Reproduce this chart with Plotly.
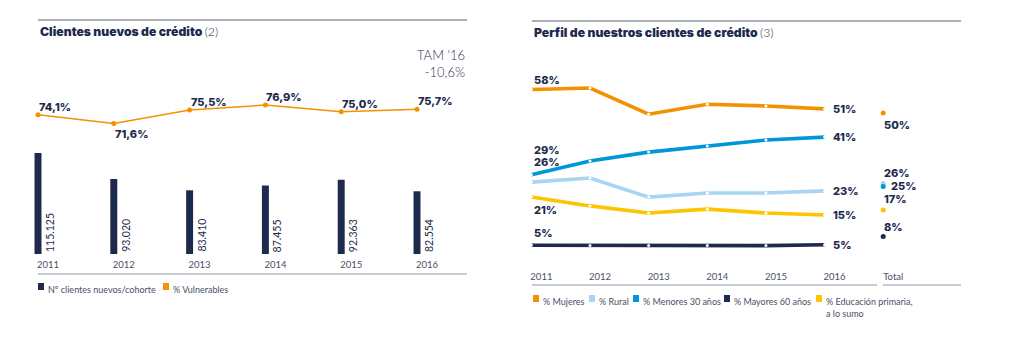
import plotly.graph_objects as go

W, H = 1024, 354

# ---------------- data ----------------
years = ["2011", "2012", "2013", "2014", "2015", "2016"]
new_clients = [115125, 93020, 83410, 87455, 92363, 82554]
new_clients_labels = ["115.125", "93.020", "83.410", "87.455", "92.363", "82.554"]
vulnerable_pct = [74.1, 71.6, 75.5, 76.9, 75.0, 75.7]
vulnerable_labels = ["74,1%", "71,6%", "75,5%", "76,9%", "75,0%", "75,7%"]

profile_cats = ["2011", "2012", "2013", "2014", "2015", "2016", "Total"]
mujeres = [58, 58.5, 49.6, 53.0, 52.4, 51.4]
rural = [26.5, 27.9, 21.4, 22.8, 22.8, 23.5]
menores30 = [29, 33.7, 36.7, 38.8, 40.8, 41.8]
mayores60 = [5.0, 4.9, 4.9, 4.9, 4.9, 5.2]
educacion = [21.4, 18.4, 16.0, 17.3, 16.0, 15.3]
total_values = [50, 26, 25, 17, 8]          # mujeres, rural, menores30, educacion, mayores60
start_labels = ["58%", "26%", "29%", "21%", "5%"]
end_labels = ["51%", "23%", "41%", "15%", "5%"]
total_labels = ["50%", "26%", "25%", "17%", "8%"]

# ---------------- styles ----------------
NAVY = "#1d2a4d"
ORANGE = "#f39200"
LBLUE = "#a9d4f2"
BLUE = "#0096da"
YELLOW = "#fdc400"
GRAY_TXT = "#4a5064"
FONT = "Lato"
HEAVY = "Inter"


def fx(px):
    return px / W


def fy(py):
    return 1 - py / H


fig = go.Figure()

# ---- left panel: bars + line ----
fig.add_trace(go.Bar(x=years, y=new_clients, xaxis="x", yaxis="y",
                     marker=dict(color=NAVY, line=dict(width=0)), width=0.092,
                     hoverinfo="skip"))
fig.add_trace(go.Scatter(x=years, y=vulnerable_pct, xaxis="x", yaxis="y2",
                         mode="lines+markers", line=dict(color=ORANGE, width=1.5),
                         marker=dict(color=ORANGE, size=5), hoverinfo="skip"))

# ---- right panel: lines ----
series = [(mujeres, ORANGE), (rural, LBLUE), (menores30, BLUE), (educacion, YELLOW), (mayores60, NAVY)]
for vals, col in series:
    fig.add_trace(go.Scatter(x=profile_cats[:6], y=vals, xaxis="x2", yaxis="y3",
                             mode="lines+markers", line=dict(color=col, width=3.6),
                             marker=dict(color="white", size=3), hoverinfo="skip"))
for (vals, col), tv in zip(series, total_values):
    fig.add_trace(go.Scatter(x=["Total"], y=[tv], xaxis="x2", yaxis="y3", mode="markers",
                             marker=dict(color=col, size=5), hoverinfo="skip"))

ann = []
NUMFONT = dict(family=HEAVY, size=11, color=NAVY, weight=800)
# bar value labels (rotated); category axes take the category index
for i, (v, lab) in enumerate(zip(new_clients, new_clients_labels)):
    ann.append(dict(x=i, y=29239, xref="x", yref="y", text=lab, textangle=-90,
                    xanchor="center", yanchor="bottom", xshift=11.5, showarrow=False,
                    font=dict(family=FONT, size=10.5, color=NAVY, weight=400)))
# line labels
for i, (v, lab) in enumerate(zip(vulnerable_pct, vulnerable_labels)):
    below = v == min(vulnerable_pct)
    ann.append(dict(x=i, y=v, xref="x", yref="y2", text=lab, showarrow=False,
                    xanchor="left", yanchor="middle", xshift=-1, yshift=-11 if below else 8,
                    font=NUMFONT))

# right labels: start
start_shift = [9, 20, 25, -13, 12]
for (vals, col), lab, ys in zip(series, start_labels, start_shift):
    ann.append(dict(x=0, y=vals[0], xref="x2", yref="y3", text=lab, showarrow=False,
                    xanchor="left", yanchor="middle", xshift=1, yshift=ys, font=NUMFONT))
for (vals, col), lab in zip(series, end_labels):
    ann.append(dict(x=5, y=vals[5], xref="x2", yref="y3", text=lab, showarrow=False,
                    xanchor="left", yanchor="middle", xshift=6, yshift=0, font=NUMFONT))
tot_shift = [(-1, -12), (-1, 11), (6, 1), (-1, 11), (-1, 9)]
for tv, lab, (xs, ys) in zip(total_values, total_labels, tot_shift):
    ann.append(dict(x=6, y=tv, xref="x2", yref="y3", text=lab, showarrow=False,
                    xanchor="left", yanchor="middle", xshift=xs, yshift=ys, font=NUMFONT))

# titles
ann.append(dict(x=fx(38), y=fy(31), xref="paper", yref="paper", xanchor="left", yanchor="middle",
                text="Clientes nuevos de crédito <span style='font-weight:300;font-family:Lato'>(2)</span>",
                showarrow=False, font=dict(family=HEAVY, size=12.2, color=NAVY, weight=900)))
ann.append(dict(x=fx(532), y=fy(32), xref="paper", yref="paper", xanchor="left", yanchor="middle",
                text="Perfil de nuestros clientes de crédito <span style='font-weight:300;font-family:Lato'>(3)</span>",
                showarrow=False, font=dict(family=HEAVY, size=12.2, color=NAVY, weight=900)))
ann.append(dict(x=fx(467), y=fy(63.5), xref="paper", yref="paper", xanchor="right", yanchor="middle",
                text="TAM '16<br>-10,6%", align="right", showarrow=False,
                font=dict(family=FONT, size=13, color="#2a3550", weight=300)))

shapes = []
# rules
shapes.append(dict(type="line", xref="paper", yref="paper", x0=fx(38), x1=fx(467), y0=fy(20), y1=fy(20),
                   line=dict(color="#5a6070", width=1.2)))
shapes.append(dict(type="line", xref="paper", yref="paper", x0=fx(532), x1=fx(961), y0=fy(21), y1=fy(21),
                   line=dict(color="#5a6070", width=1.2)))
shapes.append(dict(type="line", xref="paper", yref="paper", x0=fx(38), x1=fx(467), y0=fy(274), y1=fy(274),
                   line=dict(color="#c6cbd6", width=2)))
shapes.append(dict(type="line", xref="paper", yref="paper", x0=fx(532), x1=fx(877), y0=fy(285), y1=fy(285),
                   line=dict(color="#c6cbd6", width=2)))
shapes.append(dict(type="line", xref="paper", yref="paper", x0=fx(883), x1=fx(961), y0=fy(285), y1=fy(285),
                   line=dict(color="#c6cbd6", width=2)))


# legends
def legend_item(x_sq, y_c, color, text, x_txt):
    shapes.append(dict(type="rect", xref="paper", yref="paper", x0=fx(x_sq), x1=fx(x_sq + 6),
                       y0=fy(y_c + 3.5), y1=fy(y_c - 3.5), fillcolor=color, line=dict(width=0)))
    ann.append(dict(x=fx(x_txt), y=fy(y_c - 5), xref="paper", yref="paper", xanchor="left", yanchor="top",
                    text=text, align="left", showarrow=False,
                    font=dict(family=FONT, size=9, color=GRAY_TXT)))


legend_item(38, 286.5, NAVY, "Nº clientes nuevos/cohorte", 46)
legend_item(163, 286.5, ORANGE, "% Vulnerables", 171)
legend_item(533, 298.5, ORANGE, "% Mujeres", 541)
legend_item(589, 298.5, LBLUE, "% Rural", 597)
legend_item(633, 298.5, BLUE, "% Menores 30 años", 641)
legend_item(724, 298.5, NAVY, "% Mayores 60 años", 732)
legend_item(816, 298.5, YELLOW, "% Educación primaria,<br>a lo sumo", 824)

axis_common = dict(showgrid=False, zeroline=False, showline=False, ticks="")

fig.update_layout(
    width=W, height=H, margin=dict(l=0, r=0, t=0, b=0),
    paper_bgcolor="white", plot_bgcolor="rgba(0,0,0,0)", showlegend=False,
    xaxis=dict(domain=[fx(20), fx(480)], type="category", categoryarray=years,
               range=[-0.2375, 5.831], tickfont=dict(family=FONT, size=9.5, color=GRAY_TXT),
               ticklabelshift=10, ticklabelstandoff=3, **axis_common),
    yaxis=dict(domain=[fy(254), fy(60)], range=[29239, 194178], showticklabels=False, **axis_common),
    yaxis2=dict(overlaying="y", range=[34.09, 89.84], showticklabels=False, **axis_common),
    xaxis2=dict(domain=[fx(520), fx(1000)], type="category", categoryarray=profile_cats,
                range=[-0.194, 7.992], tickfont=dict(family=FONT, size=9.5, color=GRAY_TXT),
                ticklabelshift=10, ticklabelstandoff=9, anchor="y3", **axis_common),
    yaxis3=dict(domain=[fy(260), fy(60)], range=[0, 68.03], showticklabels=False,
                anchor="x2", **axis_common),
    annotations=ann, shapes=shapes,
)

fig.write_html("out.html")
